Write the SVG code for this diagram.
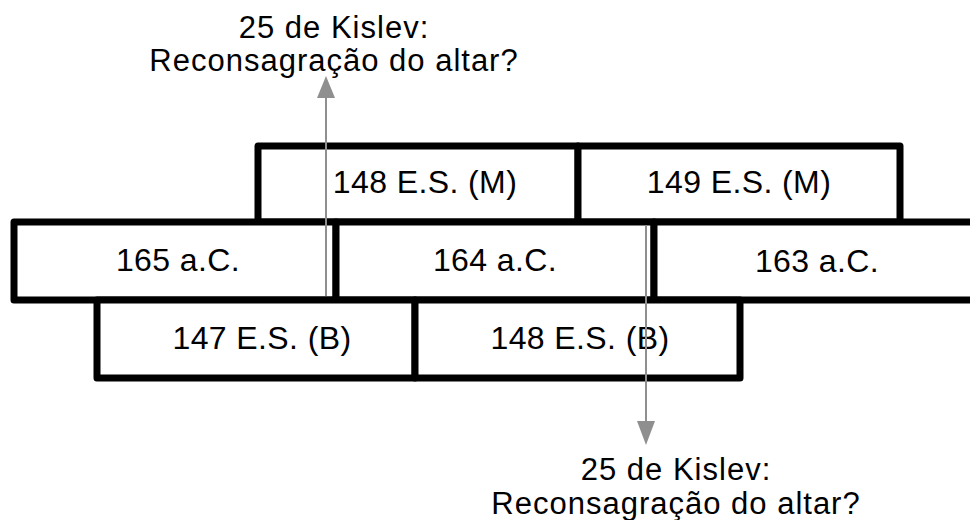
<svg xmlns="http://www.w3.org/2000/svg" width="970" height="520" viewBox="0 0 970 520">
<style>
.cell{fill:#fff;stroke:#000;stroke-width:7;stroke-linejoin:round}
.t{font-family:"Liberation Sans",Arial,sans-serif;font-size:32px;fill:#000;text-anchor:middle;letter-spacing:0.4px}
.lab{font-family:"Liberation Sans",Arial,sans-serif;font-size:31px;fill:#000;text-anchor:middle;letter-spacing:1px}
.con{stroke:#8f8f8f;stroke-width:2;fill:none}
.head{fill:#8f8f8f}
</style>
<rect width="970" height="520" fill="#fff"/>
<g id="row-m">
<g id="n148m"><rect class="cell" x="258" y="146" width="320" height="76"/><text class="t" x="425" y="193">148 E.S. (M)</text></g>
<g id="n149m"><rect class="cell" x="578" y="146" width="322" height="76"/><text class="t" x="739" y="193">149 E.S. (M)</text></g>
</g>
<g id="row-ac">
<g id="n165"><rect class="cell" x="14" y="222" width="322" height="78"/><text class="t" x="178" y="271">165 a.C.</text></g>
<g id="n164"><rect class="cell" x="336" y="222" width="318" height="78"/><text class="t" x="495" y="271">164 a.C.</text></g>
<g id="n163"><rect class="cell" x="654" y="222" width="330" height="78"/><text class="t" x="817" y="272">163 a.C.</text></g>
</g>
<g id="row-b">
<g id="n147b"><rect class="cell" x="97" y="300" width="318" height="78"/><text class="t" x="262" y="349">147 E.S. (B)</text></g>
<g id="n148b"><rect class="cell" x="415" y="300" width="325" height="78"/><text class="t" x="580" y="349">148 E.S. (B)</text></g>
</g>
<g id="connectors">
<line class="con" x1="326" y1="296" x2="326" y2="96"/>
<polygon class="head" points="326,76 317,98 335,98"/>
<line class="con" x1="646" y1="225" x2="646" y2="423"/>
<polygon class="head" points="646,445 637,421 655,421"/>
</g>
<g id="label-top">
<text class="lab" x="334" y="38">25 de Kislev:</text>
<text class="lab" x="334" y="71">Reconsagração do altar?</text>
</g>
<g id="label-bottom">
<text class="lab" x="676" y="480">25 de Kislev:</text>
<text class="lab" x="676" y="514">Reconsagração do altar?</text>
</g>
</svg>
